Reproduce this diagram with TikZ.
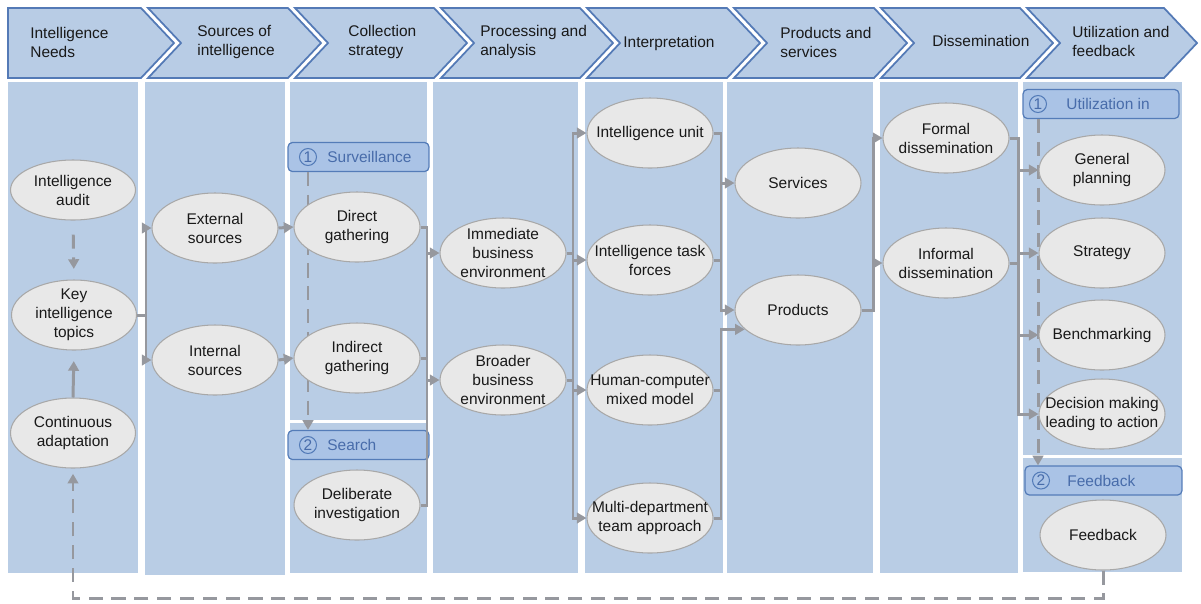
\documentclass[tikz,border=0pt]{standalone}
\usepackage{fontspec}
\setmainfont{Liberation Sans}
\usetikzlibrary{arrows.meta,shapes.geometric,calc}

\definecolor{panelblue}{RGB}{185,205,229}
\definecolor{chevfill}{RGB}{184,204,229}
\definecolor{chevline}{RGB}{84,122,182}
\definecolor{tagfill}{RGB}{170,195,230}
\definecolor{tagline}{RGB}{84,124,184}
\definecolor{tagtext}{RGB}{72,108,170}
\definecolor{ovalfill}{RGB}{232,232,232}
\definecolor{ovalline}{RGB}{168,168,168}
\definecolor{wirecol}{RGB}{150,152,158}
\definecolor{ink}{RGB}{25,25,25}

\tikzset{
  txt/.style={font=\fontsize{8.8}{10.8}\selectfont, text=ink},
  ovaltext/.style={align=center, inner sep=0pt, txt},
  oval/.style={ellipse, draw=ovalline, line width=0.6pt, fill=ovalfill,
    minimum width=2.52cm, minimum height=1.4cm, inner sep=0pt,
    label={[ovaltext]center:{#1}}},
  headtext/.style={txt, align=left, anchor=west, inner sep=0pt},
  panel/.style={fill=panelblue},
  chevron/.style={fill=chevfill, draw=chevline, line width=1pt, line join=miter},
  tagbox/.style={draw=tagline, fill=tagfill, line width=0.7pt, rounded corners=2.5pt,
    minimum height=0.58cm, inner sep=0pt},
  tagnum/.style={circle, draw=tagline, line width=0.6pt, inner sep=0pt, minimum size=0.34cm,
    font=\fontsize{8.8}{10}\selectfont, text=tagtext},
  taglabel/.style={anchor=west, inner sep=0pt, font=\fontsize{8.8}{10}\selectfont, text=tagtext},
  wire/.style={draw=wirecol, line width=1.7pt},
  flow/.style={wire, -{Triangle[length=5.5pt,width=6pt]}},
  loopline/.style={wire, dash pattern=on 8pt off 5pt},
  loopflow/.style={loopline, -{Triangle[length=5.5pt,width=6pt]}},
}

\begin{document}
\begin{tikzpicture}[x=0.02cm,y=-0.02cm]
\useasboundingbox (0,0) rectangle (1201,603);

% column panels
\fill[panel] (8,82) rectangle (138,573);
\fill[panel] (145,82) rectangle (285,575);
\fill[panel] (290,82) rectangle (427,420);
\fill[panel] (290,423) rectangle (427,573);
\fill[panel] (433,82) rectangle (578,573);
\fill[panel] (585,82) rectangle (723,573);
\fill[panel] (727,82) rectangle (873,573);
\fill[panel] (880,82) rectangle (1018,573);
\fill[panel] (1023,82) rectangle (1182,455);
\fill[panel] (1023,458) rectangle (1182,572);

% header chevrons
\filldraw[chevron] (8,8) -- (141,8) -- (174,43) -- (141,78) -- (8,78) -- cycle;
\foreach \l/\t in {148/321, 295/467, 441/613, 587/760, 734/907, 881/1053, 1027/1197}
  \filldraw[chevron] (\l,8) -- (\t-33,8) -- (\t,43) -- (\t-33,78) -- (\l,78) -- (\l+33,43) -- cycle;

\node[headtext] (h1) at (30,42) {Intelligence\\Needs};
\node[headtext] (h2) at (197,42) {Sources of\\intelligence};
\node[headtext] (h3) at (348,42) {Collection\\strategy};
\node[headtext] (h4) at (480,42) {Processing and\\analysis};
\node[headtext] (h5) at (623,43) {Interpretation};
\node[headtext] (h6) at (780,42) {Products and\\services};
\node[headtext] (h7) at (932,41) {Dissemination};
\node[headtext] (h8) at (1072,41) {Utilization and\\feedback};

% stage tags
\node[tagbox, minimum width=2.82cm] (surv) at (358.5,157) {};
\node[tagnum] (survnum) at (308,157) {1};
\node[taglabel] (survtxt) at (327,157) {Surveillance};
\node[tagbox, minimum width=2.82cm] (search) at (358.5,445) {};
\node[tagnum] (searchnum) at (308,445) {2};
\node[taglabel] (searchtxt) at (327,445) {Search};
\node[tagbox, minimum width=3.12cm] (util) at (1101,104) {};
\node[tagnum] (utilnum) at (1038,104) {1};
\node[taglabel] (utiltxt) at (1066,104) {Utilization in};
\node[tagbox, minimum width=3.14cm] (fbtag) at (1103.5,480.5) {};
\node[tagnum] (fbnum) at (1041,480.5) {2};
\node[taglabel] (fbtxt) at (1067,480.5) {Feedback};

% stage sequence (runs behind the ovals)
\draw[loopflow] (surv.south -| survnum) -- (search.north -| survnum);
\draw[loopflow] (util.south -| utilnum) -- (fbtag.north -| utilnum);

% ovals
\node[oval={Intelligence\\audit}, minimum width=2.5cm, minimum height=1.2cm] (audit) at (73,190) {};
\node[oval={Key\\intelligence\\topics}, minimum width=2.5cm] (key) at (74,315) {};
\node[oval={Continuous\\adaptation}, minimum width=2.5cm] (cont) at (73,433) {};
\node[oval={External\\sources}] (ext) at (215,228) {};
\node[oval={Internal\\sources}] (int) at (215,360) {};
\node[oval={Direct\\gathering}] (direct) at (357,227) {};
\node[oval={Indirect\\gathering}] (indirect) at (357,358) {};
\node[oval={Deliberate\\investigation}] (delib) at (357,505) {};
\node[oval={Immediate\\business\\environment}] (imm) at (503,253) {};
\node[oval={Broader\\business\\environment}] (broad) at (503,380) {};
\node[oval={Intelligence unit}] (unit) at (650,133) {};
\node[oval={Intelligence task\\forces}] (task) at (650,260) {};
\node[oval={Human-computer\\mixed model}] (hcm) at (650,390) {};
\node[oval={Multi-department\\team approach}] (multi) at (650,518) {};
\node[oval={Services}] (serv) at (798,183) {};
\node[oval={Products}] (prod) at (798,310) {};
\node[oval={Formal\\dissemination}] (formal) at (946,138) {};
\node[oval={Informal\\dissemination}] (informal) at (946,263) {};
\node[oval={General\\planning}] (gp) at (1102,170) {};
\node[oval={Strategy}] (strat) at (1102,253) {};
\node[oval={Benchmarking}] (bench) at (1102,335) {};
\node[oval={Decision making\\leading to action}] (dec) at (1102,414) {};
\node[oval={Feedback}] (fbk) at (1103,535) {};

% bus positions
\coordinate (b1) at (146,0);
\coordinate (b2) at (427,0);
\coordinate (b3) at (573,0);
\coordinate (b4) at (721,0);
\coordinate (b6) at (873,0);
\coordinate (b7) at (1018,0);
\coordinate (loopturn) at (0,598);

% intelligence needs
\draw[loopflow, shorten <=8pt, shorten >=6pt] (audit.south) -- (key.north);
\draw[flow, shorten >=6pt] (cont.north) -- (key.south);

% sources
\draw[wire] (key.east) -- (key.east -| b1);
\draw[flow] (int.west -| b1) |- (ext.west);
\draw[flow] (ext.west -| b1) |- (int.west);
\draw[flow] (ext.east) -- (direct.west);
\draw[flow] (int.east) -- (indirect.west);

% collection to processing
\draw[wire] (direct.east) -- (direct.east -| b2) -- (delib.east -| b2) -- (delib.east);
\draw[wire] (indirect.east) -- (indirect.east -| b2);
\draw[flow] (imm.west -| b2) -- (imm.west);
\draw[flow] (broad.west -| b2) -- (broad.west);

% processing to interpretation
\draw[wire] (imm.east) -- (imm.east -| b3);
\draw[wire] (broad.east) -- (broad.east -| b3);
\draw[flow] (multi.west -| b3) |- (unit.west);
\draw[flow] (unit.west -| b3) |- (multi.west);
\draw[flow] (task.west -| b3) -- (task.west);
\draw[flow] (hcm.west -| b3) -- (hcm.west);

% interpretation to products and services
\draw[flow] (unit.east) -- (unit.east -| b4) |- (prod.west);
\draw[wire] (task.east) -- (task.east -| b4);
\draw[flow] (serv.west -| b4) -- (serv.west);
\draw[flow] (multi.east) -- (multi.east -| b4) |- (prod.200);
\draw[wire] (hcm.east) -- (hcm.east -| b4);

% products to dissemination
\draw[flow] (prod.east) -- (prod.east -| b6) |- (formal.west);
\draw[flow] (informal.west -| b6) -- (informal.west);

% dissemination to utilization
\draw[flow] (formal.east) -- (formal.east -| b7) |- (dec.west);
\draw[wire] (informal.east) -- (informal.east -| b7);
\draw[flow] (gp.west -| b7) -- (gp.west);
\draw[flow] (strat.west -| b7) -- (strat.west);
\draw[flow] (bench.west -| b7) -- (bench.west);

% feedback loop back to the needs
\draw[loopflow, shorten >=3pt] (fbk.south) -- (fbk.south |- loopturn) -| (cont.south);
\end{tikzpicture}
\end{document}
